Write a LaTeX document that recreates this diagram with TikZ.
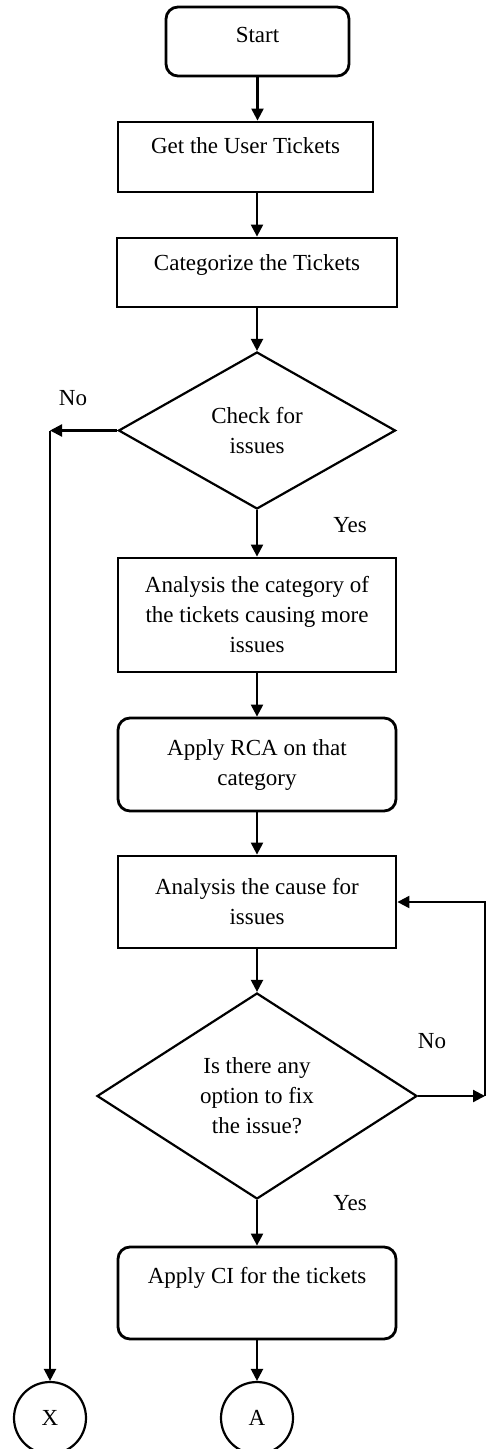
\documentclass[tikz,border=0pt]{standalone}
\usepackage{fontspec}
\setmainfont{Liberation Serif}
\usetikzlibrary{shapes.geometric,arrows.meta}
\begin{document}
\begin{tikzpicture}[x=0.5pt,y=-0.5pt,
    every node/.style={font=\fontsize{11.5}{15}\selectfont},
    box/.style={draw,line width=1.4pt,inner sep=0pt,align=center},
    rbox/.style={box,rounded corners=6pt},
    dec/.style={draw,diamond,line width=1.1pt,inner sep=0pt,align=center},
    conn/.style={draw,circle,line width=1.1pt,minimum size=36pt,inner sep=0pt},
    up/.style={text height=8pt,text depth=#1},
    arr/.style={-{Triangle[length=6pt,width=6pt]},line width=1.1pt}]
    \useasboundingbox (0,0) rectangle (486,1449);
    \node[rbox,minimum width=91.5pt,minimum height=34.5pt,up=6.5pt] (start) at (257.5,41.5) {Start};
    \node[box,minimum width=127.5pt,minimum height=35pt,up=11pt] (get) at (245.5,157) {Get the User Tickets};
    \node[box,minimum width=140pt,minimum height=34.5pt,up=10pt] (cat) at (257,272.5) {Categorize the Tickets};
    \node[dec,minimum width=138.5pt,minimum height=78.5pt] (chk) at (257,430.5) {Check for\\issues};
    \node[box,minimum width=139pt,minimum height=57pt] (ana) at (257,615) {Analysis the category of\\the tickets causing more\\issues};
    \node[rbox,minimum width=139pt,minimum height=46.5pt] (rca) at (257,764.5) {Apply RCA on that\\category};
    \node[box,minimum width=139pt,minimum height=46pt] (cause) at (257,902) {Analysis the cause for\\issues};
    \node[dec,minimum width=160pt,minimum height=103pt] (opt) at (257,1096) {Is there any\\option to fix\\the issue?};
    \node[rbox,minimum width=139pt,minimum height=46pt,up=18pt] (ci) at (257,1293) {Apply CI for the tickets};
    \node[conn] (x) at (50,1418) {X};
    \node[conn] (a) at (257,1418) {A};
    \coordinate (nl) at (50,430.5);
    \coordinate (nr) at (485,1096);
    \node (no1) at (73,398) {No};
    \node (yes1) at (350,525) {Yes};
    \node (no2) at (432,1041) {No};
    \node (yes2) at (350,1203) {Yes};
    \draw[arr] (start) -- (start.south |- get.north);
    \draw[arr] (cat.north |- get.south) -- (cat);
    \draw[arr] (cat) -- (chk);
    \draw[arr] (chk.west) -- (nl);
    \draw[arr] (nl) -- (x);
    \draw[arr] (chk) -- (ana);
    \draw[arr] (ana) -- (rca);
    \draw[arr] (rca) -- (cause);
    \draw[arr] (cause) -- (opt);
    \draw[arr] (opt.east) -- (nr);
    \draw[arr] (nr) -- (nr |- cause.east) -- (cause.east);
    \draw[arr] (opt) -- (ci);
    \draw[arr] (ci) -- (a);
\end{tikzpicture}
\end{document}
